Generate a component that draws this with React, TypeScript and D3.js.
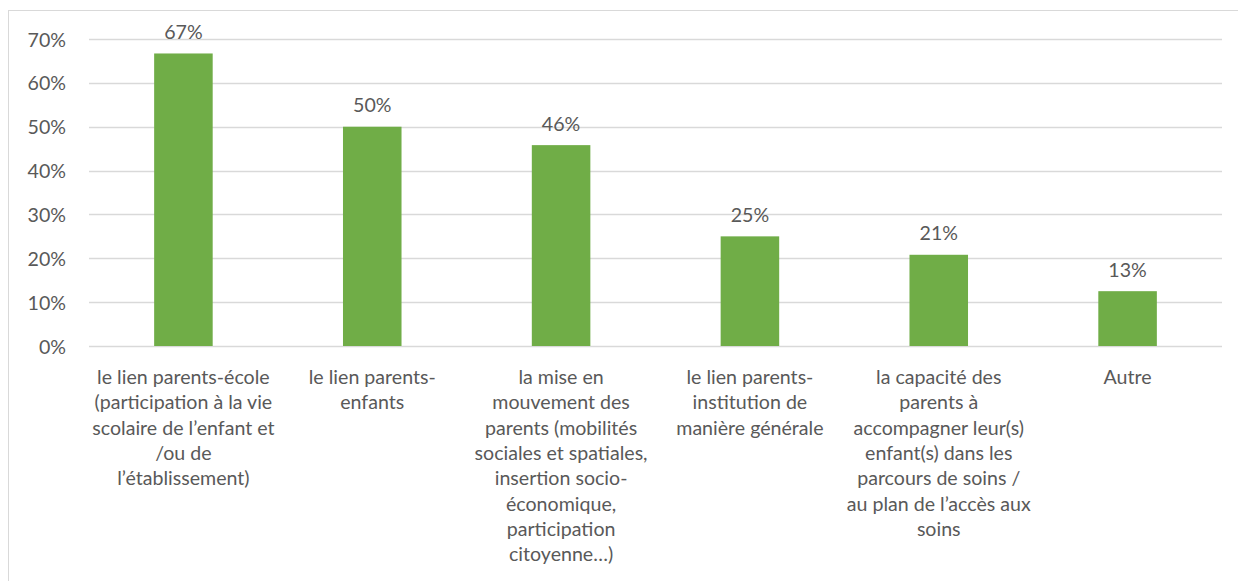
import React from "react";
import * as d3 from "d3";

const categories: string[][] = [
  ["le lien parents-école", "(participation à la vie", "scolaire de l’enfant et", "/ou de", "l’établissement)"],
  ["le lien parents-", "enfants"],
  ["la mise en", "mouvement des", "parents (mobilités", "sociales et spatiales,", "insertion socio-", "économique,", "participation", "citoyenne…)"],
  ["le lien parents-", "institution de", "manière générale"],
  ["la capacité des", "parents à", "accompagner leur(s)", "enfant(s) dans les", "parcours de soins /", "au plan de l’accès aux", "soins"],
  ["Autre"],
];
const values: number[] = [0.667, 0.5, 0.458, 0.25, 0.208, 0.125];
const yTicks: number[] = [0, 0.1, 0.2, 0.3, 0.4, 0.5, 0.6, 0.7];

const W = 1238;
const H = 581;
const FONT = "Lato, 'Open Sans', sans-serif";
const TEXT = "#595959";
const FS = 19.6;

export default function App() {
  const x = d3
    .scaleBand<number>()
    .domain(values.map((_, i) => i))
    .range([89, 1222])
    .paddingInner(0.69)
    .paddingOuter(0.345);
  const y = d3.scaleLinear().domain([0, 0.7]).range([346, 39]);
  const fmt = d3.format(".0%");

  return (
    <svg
      width={W}
      height={H}
      style={{ position: "absolute", left: 0, top: 0, background: "#fff" }}
      fontFamily={FONT}
    >
      <rect x={8.5} y={10.5} width={W + 10} height={H + 10} fill="#fff" stroke="#d9d9d9" strokeWidth={1} />
      {yTicks.map((t) => (
        <g key={t}>
          <line x1={89} x2={1222} y1={Math.round(y(t)) + 0.5} y2={Math.round(y(t)) + 0.5} stroke="#d9d9d9" strokeWidth={1.5} />
          <text x={66} y={y(t)} textAnchor="end" dominantBaseline="central" fontSize={FS} fill={TEXT}>
            {fmt(t)}
          </text>
        </g>
      ))}
      {values.map((v, i) => (
        <g key={i}>
          <rect x={x(i)} y={y(v)} width={x.bandwidth()} height={y(0) - y(v)} fill="#70ad47" />
          <text
            x={(x(i) as number) + x.bandwidth() / 2}
            y={y(v) - 22}
            textAnchor="middle"
            dominantBaseline="central"
            fontSize={FS}
            fill={TEXT}
          >
            {fmt(v)}
          </text>
        </g>
      ))}
      {categories.map((lines, i) => (
        <text key={i} textAnchor="middle" fontSize={FS} fill={TEXT} dominantBaseline="central">
          {lines.map((ln, j) => (
            <tspan key={j} x={(x(i) as number) + x.bandwidth() / 2} y={376 + j * 25.3}>
              {ln}
            </tspan>
          ))}
        </text>
      ))}
    </svg>
  );
}
